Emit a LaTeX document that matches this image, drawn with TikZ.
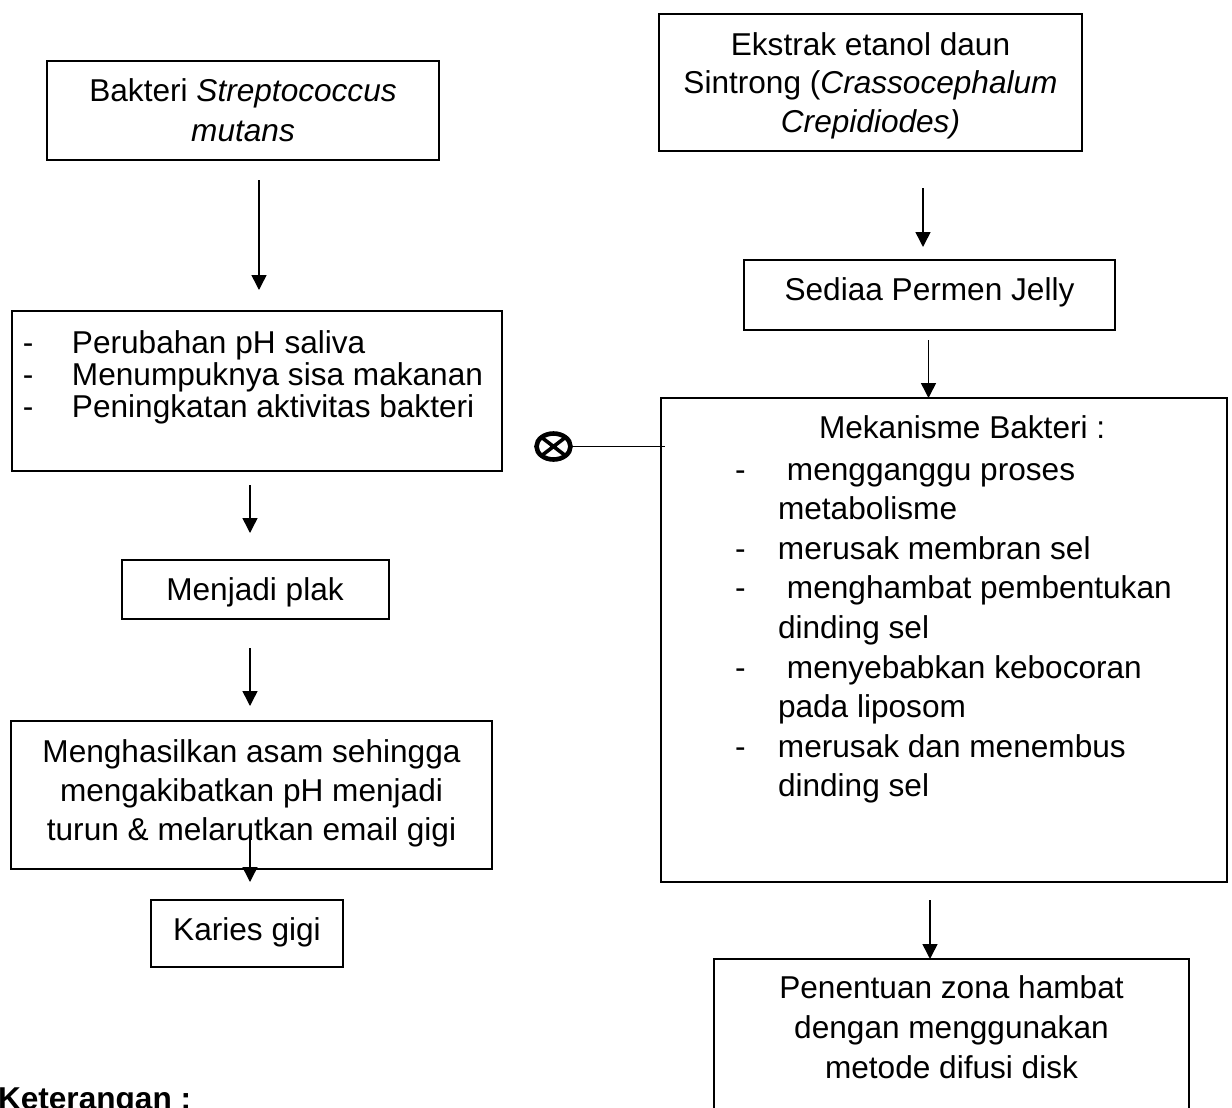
\documentclass[tikz,border=0pt]{standalone}
\usepackage{fontspec}
\setmainfont{Liberation Sans}
\usetikzlibrary{arrows.meta,calc,shapes.geometric}
\newcommand\dashcol[1]{\makebox[#1][l]{-}}
\begin{document}
\begin{tikzpicture}[x=0.5pt,y=-0.5pt,
  box/.style={draw,line width=0.9pt,inner sep=0pt,outer sep=0pt,rectangle},
  arr/.style={line width=0.75pt,-{Triangle[width=7.5pt,length=7.5pt]}},
  txt/.style={inner sep=0pt,outer sep=0pt},
  fA/.style={font=\fontsize{15.8pt}{20pt}\selectfont},
  fB/.style={font=\fontsize{15.8pt}{15.75pt}\selectfont},
  fC/.style={font=\fontsize{15.8pt}{19.5pt}\selectfont},
  fD/.style={font=\fontsize{15.8pt}{19.25pt}\selectfont},
  fE/.style={font=\fontsize{15.8pt}{19.8pt}\selectfont}]
\useasboundingbox (0,0) rectangle (1232,1108);
\clip (0,0) rectangle (1232,1108);

% ---------- left column ----------
\node[box,minimum width=196pt,minimum height=49.5pt] (b1) at (243,110.5) {};
\node[txt,fA,anchor=base] (t1) at (243,101) {\begin{tabular}[t]{@{}c@{}}Bakteri \textit{Streptococcus}\\\textit{mutans}\end{tabular}};

\node[box,minimum width=245pt,minimum height=80pt] (b2) at (257,391) {};
\node[txt,fB,anchor=base west] (t2) at (23,353) {\begin{tabular}[t]{@{}l@{}l@{}}
\dashcol{24.5pt} & Perubahan pH saliva\\
\dashcol{24.5pt} & Menumpuknya sisa makanan\\
\dashcol{24.5pt} & Peningkatan aktivitas bakteri\end{tabular}};

\node[box,minimum width=133.5pt,minimum height=29.5pt] (b3) at (255.5,589.5) {};
\node[txt,fA,anchor=base] (t3) at (255,600) {Menjadi plak};

\node[box,minimum width=240.5pt,minimum height=74pt] (b4) at (251.5,795) {};
\node[txt,fC,anchor=base] (t4) at (251.5,762) {\begin{tabular}[t]{@{}c@{}}Menghasilkan asam sehingga\\mengakibatkan pH menjadi\\turun \& melarutkan email gigi\end{tabular}};

\node[box,minimum width=96pt,minimum height=33.5pt] (b5) at (247,933.5) {};
\node[txt,fA,anchor=base] (t5) at (247,940) {Karies gigi};

% ---------- right column ----------
\node[box,minimum width=211.5pt,minimum height=68.5pt] (r1) at (870.5,82.5) {};
\node[txt,fD,anchor=base] (t6) at (870.5,55) {\begin{tabular}[t]{@{}c@{}}Ekstrak etanol daun\\Sintrong (\textit{Crassocephalum}\\\textit{Crepidiodes)}\end{tabular}};

\node[box,minimum width=185.5pt,minimum height=35pt] (r2) at (929.5,295) {};
\node[txt,fA,anchor=base] (t7) at (929.5,300) {Sediaa Permen Jelly};

\node[box,minimum width=283pt,minimum height=242pt] (r3) at (944,640) {};
\node[txt,fA,anchor=base west] (t8) at (819,438) {Mekanisme Bakteri :};
\node[txt,fE,anchor=base west] (t9) at (735,480) {\begin{tabular}[t]{@{}l@{}l@{}}
\dashcol{21.5pt} & \hspace{4.5pt}mengganggu proses\\
 & metabolisme\\
\dashcol{21.5pt} & merusak membran sel\\
\dashcol{21.5pt} & \hspace{4.5pt}menghambat pembentukan\\
 & dinding sel\\
\dashcol{21.5pt} & \hspace{4.5pt}menyebabkan kebocoran\\
 & pada liposom\\
\dashcol{21.5pt} & merusak dan menembus\\
 & dinding sel\end{tabular}};

\node[box,minimum width=237.5pt,minimum height=85.5pt] (r4) at (951.5,1044.5) {};
\node[txt,fA,anchor=base] (t10) at (951.5,998) {\begin{tabular}[t]{@{}c@{}}Penentuan zona hambat\\dengan menggunakan\\metode difusi disk\end{tabular}};

\node[txt,anchor=base west,font=\fontsize{15.8pt}{19pt}\selectfont\bfseries] (t11) at (-2,1109.5) {Keterangan :};

% ---------- inhibition symbol ----------
\node[ellipse,draw,line width=2.3pt,minimum width=17pt,minimum height=13pt,inner sep=0pt,outer sep=0pt] (ox) at (553.5,446.5) {};
\draw[line width=1.8pt] (ox.north west) -- (ox.south east) (ox.north east) -- (ox.south west);
\draw[line width=0.75pt,shorten >=-2pt] (ox.east) -- (ox.east -| r3.west);

% ---------- arrows ----------
\draw[arr,shorten <=10pt,shorten >=10.5pt] ($(b1.south -| b2.north)+(2,0)$) -- ($(b2.north)+(2,0)$);
\draw[arr,shorten <=7pt,shorten >=13.5pt] ($(b2.south -| b3.north)+(-5.5,0)$) -- ($(b3.north)+(-5.5,0)$);
\draw[arr,shorten <=14.5pt,shorten >=7.5pt] ($(b3.south -| b4.north)+(-1.5,0)$) -- ($(b4.north)+(-1.5,0)$);
\coordinate (a4s) at ($(b5.north)+(3,-63)$);
\draw[arr,shorten >=9pt] (a4s) -- ($(b5.north)+(3,0)$);

\draw[arr,shorten <=18.5pt,shorten >=6.5pt] ($(r1.south -| r2.north)+(-6.5,0)$) -- ($(r2.north)+(-6.5,0)$);
\draw[arr,shorten <=5pt] ($(r2.south)+(-1,0)$) -- ($(r3.north -| r2.south)+(-1,0)$);
\draw[arr,shorten <=9pt] ($(r3.south -| r4.north)+(-21.5,0)$) -- ($(r4.north)+(-21.5,0)$);
\end{tikzpicture}
\end{document}
